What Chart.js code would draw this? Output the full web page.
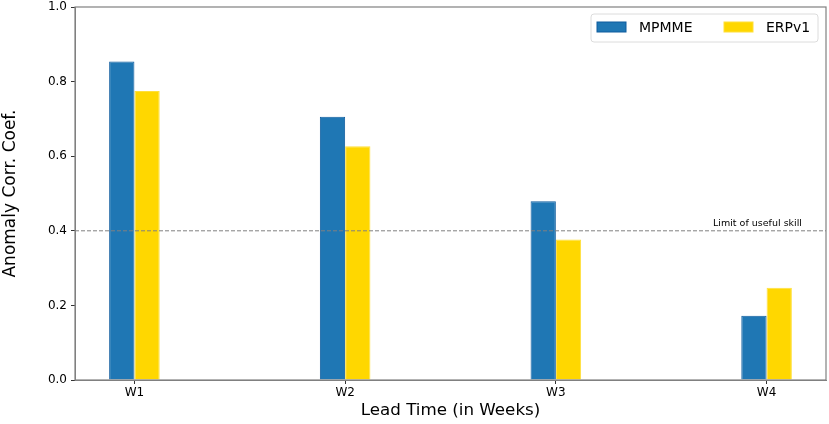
<!DOCTYPE html>
<html>
<head>
<meta charset="utf-8">
<script src="https://cdn.jsdelivr.net/npm/chart.js@4"></script>
<style>
  html, body { margin: 0; padding: 0; background: #fff; }
  #wrap { width: 829px; height: 424px; }
</style>
</head>
<body>
<div id="wrap"><canvas id="chartAcc"></canvas></div>
<script>
const weeks = ['W1', 'W2', 'W3', 'W4'];
const mpmme = [0.854, 0.706, 0.479, 0.172];
const erpv1 = [0.775, 0.627, 0.377, 0.247];
const yTicks = [0.0, 0.2, 0.4, 0.6, 0.8, 1.0];
const skillLimit = 0.4;

const font = "'DejaVu Sans', sans-serif";

// dashed line + text at the skill limit, box round the plot, legend in the corner
const extras = {
    id: 'extras',
    afterDatasetsDraw: (chart) => {
        const ctx = chart.ctx;
        const a = chart.chartArea;
        const y = chart.scales.y.getPixelForValue(skillLimit);
        ctx.save();
        ctx.strokeStyle = '#808080';
        ctx.lineWidth = 1;
        ctx.setLineDash([4, 2]);
        ctx.beginPath();
        ctx.moveTo(a.left, y);
        ctx.lineTo(a.right, y);
        ctx.stroke();
        ctx.setLineDash([]);
        ctx.fillStyle = '#000';
        ctx.font = '9.5px ' + font;
        ctx.textAlign = 'right';
        ctx.textBaseline = 'bottom';
        ctx.fillText('Limit of useful skill', a.right - 24, y - 3);

        ctx.strokeStyle = '#808080';
        ctx.lineWidth = 1.2;
        ctx.strokeRect(a.left, a.top, a.right - a.left, a.bottom - a.top);

        // legend
        const lx = a.right - 235, ly = a.top + 7, lw = 227, lh = 28;
        ctx.fillStyle = 'rgba(255,255,255,0.8)';
        ctx.strokeStyle = '#dcdcdc';
        ctx.lineWidth = 1;
        ctx.beginPath();
        ctx.roundRect(lx, ly, lw, lh, 3);
        ctx.fill();
        ctx.stroke();
        ctx.font = '14px ' + font;
        ctx.textAlign = 'left';
        ctx.textBaseline = 'middle';
        chart.data.datasets.forEach((ds, i) => {
            const px = lx + 6 + i * 127;
            ctx.fillStyle = ds.backgroundColor;
            ctx.fillRect(px, ly + 8, 29, 10);
            ctx.strokeStyle = ds.borderColor;
            ctx.strokeRect(px, ly + 8, 29, 10);
            ctx.fillStyle = '#000';
            ctx.fillText(ds.label, px + 42, ly + 14);
        });
        ctx.restore();
    }
};

new Chart("chartAcc", {
    type: "bar",
    data: {
        datasets: [{
            label: 'MPMME',
            data: mpmme.map((v, i) => ({ x: i, y: v })),
            backgroundColor: '#1f77b4',
            borderColor: '#0f5c9e',
            borderWidth: 1,
            categoryPercentage: 0.24,
            barPercentage: 1
        }, {
            label: 'ERPv1',
            data: erpv1.map((v, i) => ({ x: i, y: v })),
            backgroundColor: '#ffd700',
            borderColor: '#ffdf3a',
            borderWidth: 1,
            categoryPercentage: 0.24,
            barPercentage: 1
        }]
    },
    options: {
        responsive: true,
        maintainAspectRatio: false,
        animation: false,
        layout: { padding: { top: 7, right: 3, left: 0, bottom: 0 } },
        plugins: {
            legend: { display: false },
            tooltip: { enabled: false }
        },
        scales: {
            x: {
                type: 'linear',
                min: -0.282,
                max: 3.282,
                offset: false,
                afterBuildTicks: (s) => { s.ticks = weeks.map((w, i) => ({ value: i })); },
                afterFit: (s) => { s.height = 44; },
                ticks: {
                    callback: (v) => weeks[v],
                    color: '#000',
                    font: { family: font, size: 12 },
                    padding: 2,
                    maxRotation: 0
                },
                grid: { offset: false, drawOnChartArea: false, drawTicks: true, tickLength: 4, color: '#333' },
                border: { color: '#808080' },
                title: {
                    display: true,
                    text: 'Lead Time (in Weeks)',
                    color: '#000',
                    font: { family: font, size: 16.7 },
                    padding: { top: 0, bottom: 3 }
                }
            },
            y: {
                min: 0,
                max: 1,
                afterBuildTicks: (s) => { s.ticks = yTicks.map((v) => ({ value: v })); },
                afterFit: (s) => { s.width = 75; s.paddingTop = 0; },
                ticks: {
                    callback: (v) => v.toFixed(1),
                    color: '#000',
                    font: { family: font, size: 12 },
                    padding: 4
                },
                grid: { drawOnChartArea: false, drawTicks: true, tickLength: 4, color: '#333' },
                border: { color: '#808080' },
                title: {
                    display: true,
                    text: 'Anomaly Corr. Coef.',
                    color: '#000',
                    font: { family: font, size: 17 },
                    padding: { top: 0, bottom: 0 }
                }
            }
        }
    },
    plugins: [extras]
});
</script>
</body>
</html>
